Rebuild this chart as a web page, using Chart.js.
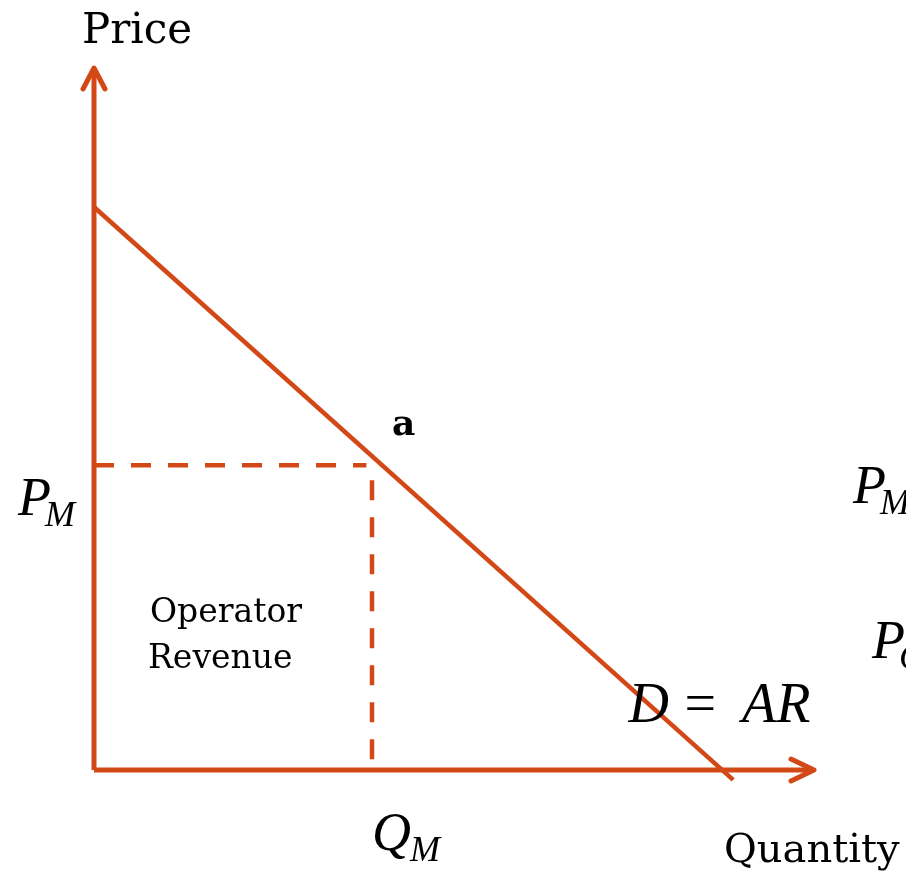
<!DOCTYPE html>
<html>
<head>
<meta charset="utf-8">
<script src="https://cdn.jsdelivr.net/npm/chart.js@4"></script>
<style>
  html, body { margin: 0; padding: 0; background: #fff; }
  #wrap { width: 906px; height: 874px; position: relative; }
</style>
</head>
<body>
<div id="wrap"><canvas id="chart"></canvas></div>
<script>
// data (quantity on x, price on y)
const priceMax = 10;
const quantityMax = 9;
const demandQ = [0, 7.99];
const demandP = [8.02, -0.14];
const monopolyQ = 3.475;
const monopolyP = 4.34;
const axisTitles = ['Price', 'Quantity'];
const pointLabel = 'a';
const areaLabel = ['Operator', 'Revenue'];

const orange = '#D34817';
const textFont = '"DejaVu Serif", serif';
const mathFont = '"Liberation Serif", serif';

function pts(xs, ys) {
  return xs.map((x, i) => ({ x: x, y: ys[i] }));
}

// arrowheads, axis titles and math labels
const labelsPlugin = {
  id: 'labels',
  afterDatasetsDraw(chart) {
    const ctx = chart.ctx;
    const xs = chart.scales.x, ys = chart.scales.y;
    const x0 = xs.getPixelForValue(0), y0 = ys.getPixelForValue(0);
    const yTop = ys.getPixelForValue(priceMax);
    const xEnd = xs.getPixelForValue(quantityMax);
    const qm = xs.getPixelForValue(monopolyQ), pm = ys.getPixelForValue(monopolyP);

    ctx.save();
    ctx.strokeStyle = orange;
    ctx.lineWidth = 5;
    ctx.lineCap = 'round';
    ctx.lineJoin = 'round';
    ctx.beginPath();
    ctx.moveTo(x0 - 11, yTop + 21);
    ctx.lineTo(x0, yTop);
    ctx.lineTo(x0 + 11, yTop + 21);
    ctx.moveTo(xEnd - 23, y0 - 11);
    ctx.lineTo(xEnd, y0);
    ctx.lineTo(xEnd - 23, y0 + 11);
    ctx.stroke();

    ctx.fillStyle = '#000';
    ctx.textBaseline = 'alphabetic';
    ctx.textAlign = 'left';

    ctx.font = '42px ' + textFont;
    ctx.fillText(axisTitles[0], x0 - 12, yTop - 25);
    ctx.font = '40px ' + textFont;
    ctx.fillText(axisTitles[1], xEnd - 90, y0 + 92);
    ctx.font = 'bold 36px ' + textFont;
    ctx.fillText(pointLabel, qm + 20, pm - 30);

    ctx.font = '33px ' + textFont;
    ctx.fillText(areaLabel[0], x0 + 56, pm + 157);
    ctx.fillText(areaLabel[1], x0 + 54, pm + 203);

    function sub(main, s, x, base, size, shift) {
      ctx.font = 'italic ' + size + 'px ' + mathFont;
      ctx.fillText(main, x, base);
      const w = ctx.measureText(main).width;
      ctx.font = 'italic ' + Math.round(size * 0.66) + 'px ' + mathFont;
      ctx.fillText(s, x + w + shift, base + 11);
    }
    sub('P', 'M', x0 - 76, pm + 50, 54, -6);
    sub('Q', 'M', qm, y0 + 80, 54, -1);
    sub('P', 'M', 853, pm + 38, 54, -6);
    sub('P', 'C', 872, pm + 193, 54, -6);

    ctx.font = 'italic 56px ' + mathFont;
    ctx.fillText('D', xs.getPixelForValue(6.68), y0 - 48);
    ctx.font = '56px ' + mathFont;
    ctx.fillText('=', xs.getPixelForValue(7.38), y0 - 48);
    ctx.font = 'italic 56px ' + mathFont;
    ctx.fillText('AR', xs.getPixelForValue(8.1), y0 - 48);
    ctx.restore();
  }
};

const lineDs = (data, width, dash, offset) => ({
  data: data,
  showLine: true,
  borderColor: orange,
  borderWidth: width,
  borderDash: dash || [],
  borderDashOffset: offset || 0,
  pointRadius: 0,
  fill: false,
  clip: false,
  tension: 0
});

function draw() {
  new Chart(document.getElementById('chart'), {
    type: 'scatter',
    data: {
      datasets: [
        lineDs(pts([monopolyQ, monopolyQ], [monopolyP, 0.1]), 4.5, [20, 17], 22),
        lineDs(pts([0, monopolyQ - 0.07], [monopolyP, monopolyP]), 4.5, [20, 17]),
        lineDs(pts([0, 0], [0, priceMax]), 5),
        lineDs(pts([0, quantityMax], [0, 0]), 5),
        lineDs(pts(demandQ, demandP), 4.5)
      ]
    },
    options: {
      responsive: true,
      maintainAspectRatio: false,
      animation: false,
      events: [],
      layout: { padding: { left: 94, right: 12, top: 68, bottom: 104 } },
      plugins: { legend: { display: false }, tooltip: { enabled: false } },
      scales: {
        x: { type: 'linear', display: false, min: 0, max: 10 },
        y: { type: 'linear', display: false, min: 0, max: priceMax }
      }
    },
    plugins: [labelsPlugin]
  });
}

Promise.all([
  document.fonts.load('40px "DejaVu Serif"'),
  document.fonts.load('bold 36px "DejaVu Serif"'),
  document.fonts.load('italic 54px "Liberation Serif"')
]).then(draw, draw);
</script>
</body>
</html>
